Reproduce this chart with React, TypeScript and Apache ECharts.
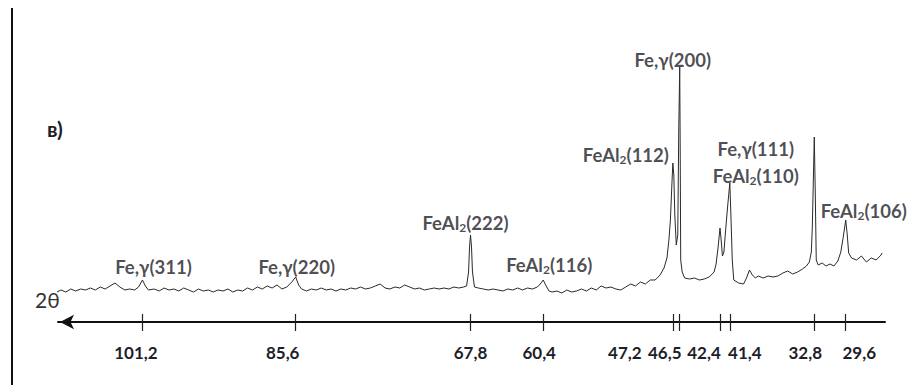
import React, { useEffect, useRef } from "react";
import * as echarts from "echarts";

// 2θ (deg) of the labelled reflections / axis ticks
const TICKS = [101.2, 85.6, 67.8, 60.4, 47.2, 46.5, 42.4, 41.4, 32.8, 29.6];
const TICK_LABELS = ["101,2", "85,6", "67,8", "60,4", "47,2", "46,5", "42,4", "41,4", "32,8", "29,6"];

// XRD trace: 2θ (deg) and intensity (arb. units)
const TWO_THETA = [
  109.9, 109.5, 109.0, 108.5, 108.0, 107.5, 107.0, 106.5, 106.0, 105.5, 105.0, 104.5, 104.0, 103.5, 103.0, 102.5, 102.0, 101.6, 101.2, 100.9, 100.6,
  100.0, 99.5, 99.0, 98.5, 98.0, 97.5, 97.0, 96.5, 96.0, 95.5, 95.0, 94.5, 94.0, 93.5, 93.0, 92.5, 92.0, 91.5, 91.0, 90.5, 90.0, 89.5, 89.0, 88.5,
  88.0, 87.5, 87.0, 86.5, 86.0, 85.6, 85.3, 85.0, 84.5, 84.0, 83.5, 83.0, 82.5, 82.0, 81.5, 81.0, 80.5, 80.0, 79.5, 79.0, 78.5, 78.0, 77.5, 77.0,
  76.5, 76.0, 75.5, 75.0, 74.5, 74.0, 73.5, 73.0, 72.5, 72.0, 71.5, 71.0, 70.5, 70.0, 69.5, 69.0, 68.5, 68.2, 68.0, 67.9, 67.8, 67.7, 67.6, 67.4,
  67.0, 66.5, 66.0, 65.5, 65.0, 64.5, 64.0, 63.5, 63.0, 62.5, 62.0, 61.5, 61.0, 60.7, 60.4, 60.1, 59.8, 59.5, 59.0, 58.5, 58.0, 57.5, 57.0, 56.5,
  56.0, 55.5, 55.0, 54.5, 54.0, 53.5, 53.0, 52.5, 52.0, 51.5, 51.0, 50.5, 50.0, 49.5, 49.0, 48.5, 48.1, 47.8, 47.6, 47.45, 47.3, 47.2, 47.1, 47.0,
  46.85, 46.7, 46.6, 46.5, 46.45, 46.4, 46.25, 46.0, 45.5, 45.0, 44.5, 44.0, 43.5, 43.0, 42.8, 42.6, 42.5, 42.4, 42.3, 42.15, 42.0, 41.8, 41.6,
  41.4, 41.3, 41.15, 41.0, 40.5, 40.0, 39.7, 39.4, 39.1, 38.8, 38.5, 38.0, 37.5, 37.0, 36.5, 36.0, 35.5, 35.0, 34.5, 34.0, 33.6, 33.3, 33.1, 33.0,
  32.9, 32.8, 32.7, 32.6, 32.4, 32.0, 31.6, 31.2, 30.8, 30.4, 30.1, 29.85, 29.6, 29.45, 29.3, 29.0, 28.5, 28.0, 27.5, 27.0, 26.5, 26.0, 25.9,
];
const INTENSITY = [
  30, 32, 30, 33, 31, 33, 32, 34, 32, 35, 33, 36, 39, 35, 32, 33, 32, 35, 42, 36, 32,
  33, 31, 34, 32, 33, 31, 34, 32, 30, 33, 31, 32, 30, 32, 31, 33, 30, 32, 31, 34, 32, 35, 33, 36,
  34, 37, 33, 35, 40, 45, 37, 33, 31, 33, 32, 34, 32, 33, 31, 33, 32, 34, 33, 35, 33, 34, 36, 38,
  34, 33, 35, 34, 37, 35, 33, 34, 32, 33, 34, 33, 34, 33, 35, 34, 35, 36, 50, 75, 87, 75, 50, 35,
  34, 33, 32, 33, 32, 31, 33, 32, 34, 32, 34, 33, 35, 38, 42, 36, 31, 30, 31, 29, 32, 30, 31, 33,
  31, 34, 32, 36, 34, 35, 33, 32, 35, 38, 36, 40, 38, 42, 42, 47, 54, 64, 82, 102, 137, 159, 147, 107,
  77, 87, 192, 255, 172, 62, 50, 44, 43, 44, 42, 43, 45, 50, 58, 74, 84, 94, 84, 66, 70, 95, 118,
  139, 110, 62, 42, 39, 38, 44, 52, 47, 44, 46, 44, 46, 45, 46, 49, 51, 48, 50, 53, 56, 60, 70, 95,
  140, 185, 130, 62, 57, 59, 56, 58, 56, 61, 70, 85, 102, 88, 69, 64, 62, 66, 60, 64, 62, 67, 69,
];

// peak annotations
const PEAK_POS = [101.2, 85.6, 67.8, 60.4, 47.2, 46.5, 41.4, 29.6];
const PEAK_INT = [42, 45, 87, 42, 159, 255, 139, 102];
const PEAK_NAMES = ["Fe,γ(311)", "Fe,γ(220)", "FeAl2(222)", "FeAl2(116)", "FeAl2(112)", "Fe,γ(200)", "Fe,γ(111)\nFeAl2(110)", "FeAl2(106)"];

// styling: label offsets (px)
const PEAK_LABEL_OFFSETS = [[11, -13], [1, -10], [-5, -12], [6, -15], [-47, -8], [-7, -7], [26, -21], [18, -9]];
const TICK_LABEL_SHIFT = [-6.5, -13, 0, -4, -48, -15, -16, 15, -9, 13.5];

const FONT = "Lato, 'Noto Sans', 'DejaVu Sans', sans-serif";
const TXT = "#1e1e28";

export default function App() {
  const ref = useRef<HTMLDivElement>(null);
  useEffect(() => {
    if (!ref.current) return;
    const chart = echarts.init(ref.current, null, { renderer: "svg" });

    const tickRich: Record<string, any> = {};
    TICK_LABEL_SHIFT.forEach((dx, i) => {
      tickRich["t" + i] = {
        fontFamily: FONT,
        fontSize: 17,
        fontWeight: "bold",
        color: TXT,
        padding: dx >= 0 ? [0, 0, 0, 2 * dx] : [0, -2 * dx, 0, 0],
      };
    });

    const lineData = TWO_THETA.map((v, i) => [v, INTENSITY[i]]);
    const peakData = PEAK_POS.map((v, i) => ({
      value: [v, PEAK_INT[i]],
      name: PEAK_NAMES[i],
      label: { offset: PEAK_LABEL_OFFSETS[i] },
    }));

    const axisCommon = {
      type: "value",
      min: 25.6,
      max: 109.8,
      inverse: true,
      position: "bottom",
      splitLine: { show: false },
    };

    const subStyle = { fontFamily: FONT, fontSize: 12, fontWeight: "bold", color: TXT, verticalAlign: "middle", lineHeight: 20, padding: [9, 0, 0, 0] };

    chart.setOption({
      animation: false,
      backgroundColor: "#ffffff",
      grid: { left: 58, right: 26, top: 22, bottom: 63 },
      xAxis: [
        {
          ...axisCommon,
          axisLine: {
            show: true,
            symbol: ["arrow", "none"],
            symbolSize: [11, 14],
            symbolOffset: [2, 0],
            lineStyle: { color: "#111", width: 2 },
          },
          axisTick: {
            show: true,
            customValues: TICKS,
            length: 9,
            lineStyle: { color: "#222", width: 1.2 },
          },
          axisLabel: {
            show: true,
            customValues: TICKS,
            margin: 22,
            hideOverlap: false,
            formatter: (val: number) => {
              const i = TICKS.findIndex((t) => Math.abs(t - val) < 1e-6);
              return i < 0 ? "" : `{t${i}|${TICK_LABELS[i]}}`;
            },
            rich: tickRich,
          },
        },
        {
          ...axisCommon,
          axisLine: { show: false },
          axisTick: {
            show: true,
            inside: true,
            customValues: TICKS,
            length: 8,
            lineStyle: { color: "#222", width: 1.2 },
          },
          axisLabel: { show: false },
        },
      ],
      yAxis: { type: "value", min: 0, max: 300, show: false, splitLine: { show: false } },
      series: [
        {
          type: "line",
          data: lineData,
          showSymbol: false,
          symbol: "none",
          lineStyle: { color: "#2a2a2a", width: 1 },
          xAxisIndex: 0,
          z: 2,
        },
        {
          type: "scatter",
          data: peakData,
          symbolSize: 0,
          xAxisIndex: 0,
          z: 3,
          label: {
            show: true,
            position: "inside",
            fontFamily: FONT,
            fontSize: 18.5,
            fontWeight: "bold",
            color: TXT,
            lineHeight: 27,
            formatter: (p: any) => p.name.replace(/Al2/g, "Al{s|2}"),
            rich: { s: subStyle },
          },
        },
      ],
      graphic: [
        { type: "line", shape: { x1: 12, y1: 8, x2: 12, y2: 385 }, style: { stroke: "#111", lineWidth: 2 } },
        { type: "text", left: 47, top: 118, style: { text: "в)", fontFamily: FONT, fontSize: 21, fontWeight: "bold", fill: TXT } },
        { type: "text", left: 35, top: 289, style: { text: "2θ", fontFamily: FONT, fontSize: 21, fill: "#333" } },
      ],
    });
    return () => chart.dispose();
  }, []);
  return <div ref={ref} style={{ position: "fixed", left: 0, top: 0, width: 911, height: 385 }} />;
}
